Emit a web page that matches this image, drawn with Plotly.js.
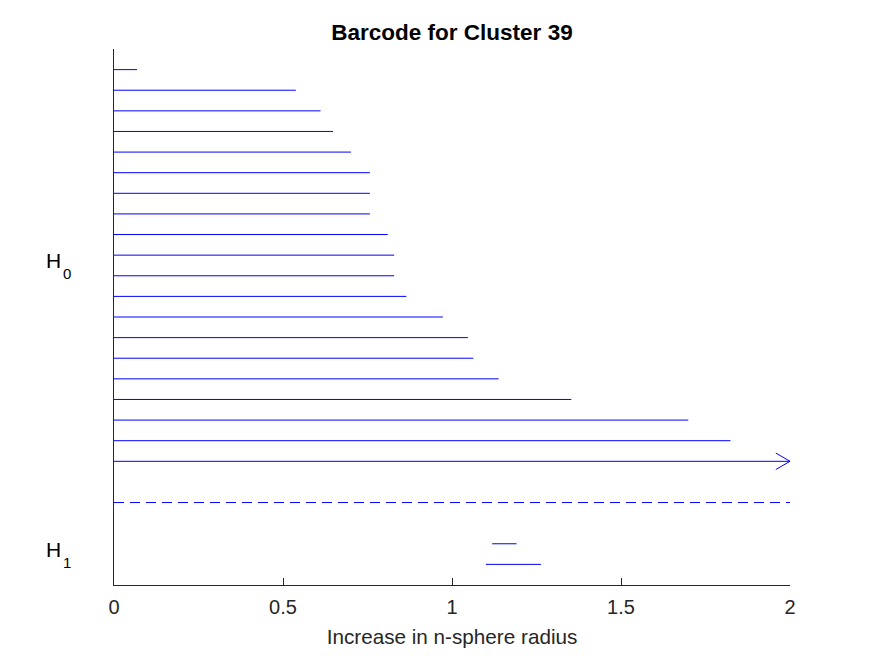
<!DOCTYPE html>
<html>
<head>
<meta charset="utf-8">
<script src="https://cdn.plot.ly/plotly-3.0.1.min.js"></script>
<style>
  html, body { margin: 0; padding: 0; background: #fff; }
  #chart { width: 875px; height: 656px; }
</style>
</head>
<body>
<div id="chart"></div>
<script>
// --- Barcode data (persistence intervals) ---
// H0: every bar is born at 0, deaths listed top to bottom, last one never dies
const h0Births = [0, 0, 0, 0, 0, 0, 0, 0, 0, 0, 0, 0, 0, 0, 0, 0, 0, 0, 0, 0];
const h0Deaths = [0.068, 0.538, 0.611, 0.648, 0.701, 0.757, 0.757, 0.757, 0.810, 0.829,
                  0.829, 0.865, 0.973, 1.047, 1.063, 1.138, 1.353, 1.699, 1.824, Infinity];
// H1: two short-lived loops
const h1Births = [1.119, 1.100];
const h1Deaths = [1.191, 1.263];

const xMax = 2;
const groupNames = ['H', 'H'];
const groupDims = ['0', '1'];
const xTicks = [0, 0.5, 1, 1.5, 2];

const barColor = '#0000ff';
const axisColor = '#262626';
const fontFamily = 'Liberation Sans, Arial, Helvetica, sans-serif';

// rows: H0 on 1..20, a gap, separator, a gap, then H1
const h0Rows = h0Deaths.map((d, i) => i + 1);
const sepRow = h0Rows.length + 2;
const h1Rows = h1Deaths.map((d, i) => sepRow + 2 + i);
const nRows = h1Rows[h1Rows.length - 1] + 1;

// build one segment trace with null gaps
function segments(births, deaths, rows) {
    const xs = [], ys = [];
    births.forEach((b, i) => {
        const d = isFinite(deaths[i]) ? deaths[i] : xMax;
        xs.push(b, d, null);
        ys.push(rows[i], rows[i], null);
    });
    return { xs, ys };
}

const h0Seg = segments(h0Births, h0Deaths, h0Rows);
const h1Seg = segments(h1Births, h1Deaths, h1Rows);

// open arrow heads for bars that live forever
const arrowX = [], arrowY = [];
h0Deaths.forEach((d, i) => {
    if (!isFinite(d)) {
        arrowX.push(xMax - 0.042, xMax, xMax - 0.042, null);
        arrowY.push(h0Rows[i] - 0.4, h0Rows[i], h0Rows[i] + 0.4, null);
    }
});

const lineStyle = { color: barColor, width: 1 };

const traces = [
    { x: h0Seg.xs, y: h0Seg.ys, type: 'scatter', mode: 'lines', line: lineStyle, hoverinfo: 'skip' },
    { x: arrowX, y: arrowY, type: 'scatter', mode: 'lines', line: lineStyle, hoverinfo: 'skip' },
    { x: [0, xMax], y: [sepRow, sepRow], type: 'scatter', mode: 'lines',
      line: { color: barColor, width: 1, dash: '10px,6px' }, hoverinfo: 'skip' },
    { x: h1Seg.xs, y: h1Seg.ys, type: 'scatter', mode: 'lines', line: lineStyle, hoverinfo: 'skip' }
];

const groupMid = [
    (h0Rows[0] + h0Rows[h0Rows.length - 1]) / 2,
    (h1Rows[0] + h1Rows[h1Rows.length - 1]) / 2
];

// H letter plus a lowered subscript digit, drawn as separate texts
const annotations = [];
groupNames.forEach((t, i) => {
    annotations.push({
        text: t, xref: 'paper', yref: 'y', x: -0.103, y: groupMid[i],
        xanchor: 'left', yanchor: 'middle', yshift: 5, showarrow: false,
        font: { family: fontFamily, size: 21, color: '#000' }
    });
    annotations.push({
        text: groupDims[i], xref: 'paper', yref: 'y', x: -0.079, y: groupMid[i],
        xanchor: 'left', yanchor: 'middle', yshift: -8, showarrow: false,
        font: { family: fontFamily, size: 15, color: '#000' }
    });
});

const layout = {
    width: 875,
    height: 656,
    margin: { l: 114, r: 85, t: 49, b: 71 },
    paper_bgcolor: '#fff',
    plot_bgcolor: '#fff',
    showlegend: false,
    font: { family: fontFamily, color: axisColor, size: 20 },
    title: {
        text: '<b>Barcode for Cluster 39</b>',
        font: { family: fontFamily, size: 22.5, color: '#000' },
        xref: 'paper', x: 0.5, xanchor: 'center', y: 0.951, yanchor: 'middle'
    },
    xaxis: {
        range: [0, xMax],
        tickvals: xTicks,
        ticktext: xTicks.map(String),
        ticks: 'inside',
        ticklen: 7,
        tickwidth: 1,
        tickcolor: axisColor,
        showline: true,
        linecolor: axisColor,
        linewidth: 1,
        showgrid: false,
        zeroline: false,
        ticklabelstandoff: 4,
        tickfont: { size: 20, color: axisColor },
        title: { text: 'Increase in n-sphere radius', font: { size: 20.7, color: axisColor }, standoff: 12 },
        fixedrange: true
    },
    yaxis: {
        range: [nRows, 0],
        showline: true,
        linecolor: axisColor,
        linewidth: 1,
        showgrid: false,
        zeroline: false,
        showticklabels: false,
        ticks: '',
        fixedrange: true
    },
    annotations: annotations
};

Plotly.newPlot('chart', traces, layout, { displayModeBar: false, staticPlot: true });
</script>
</body>
</html>
